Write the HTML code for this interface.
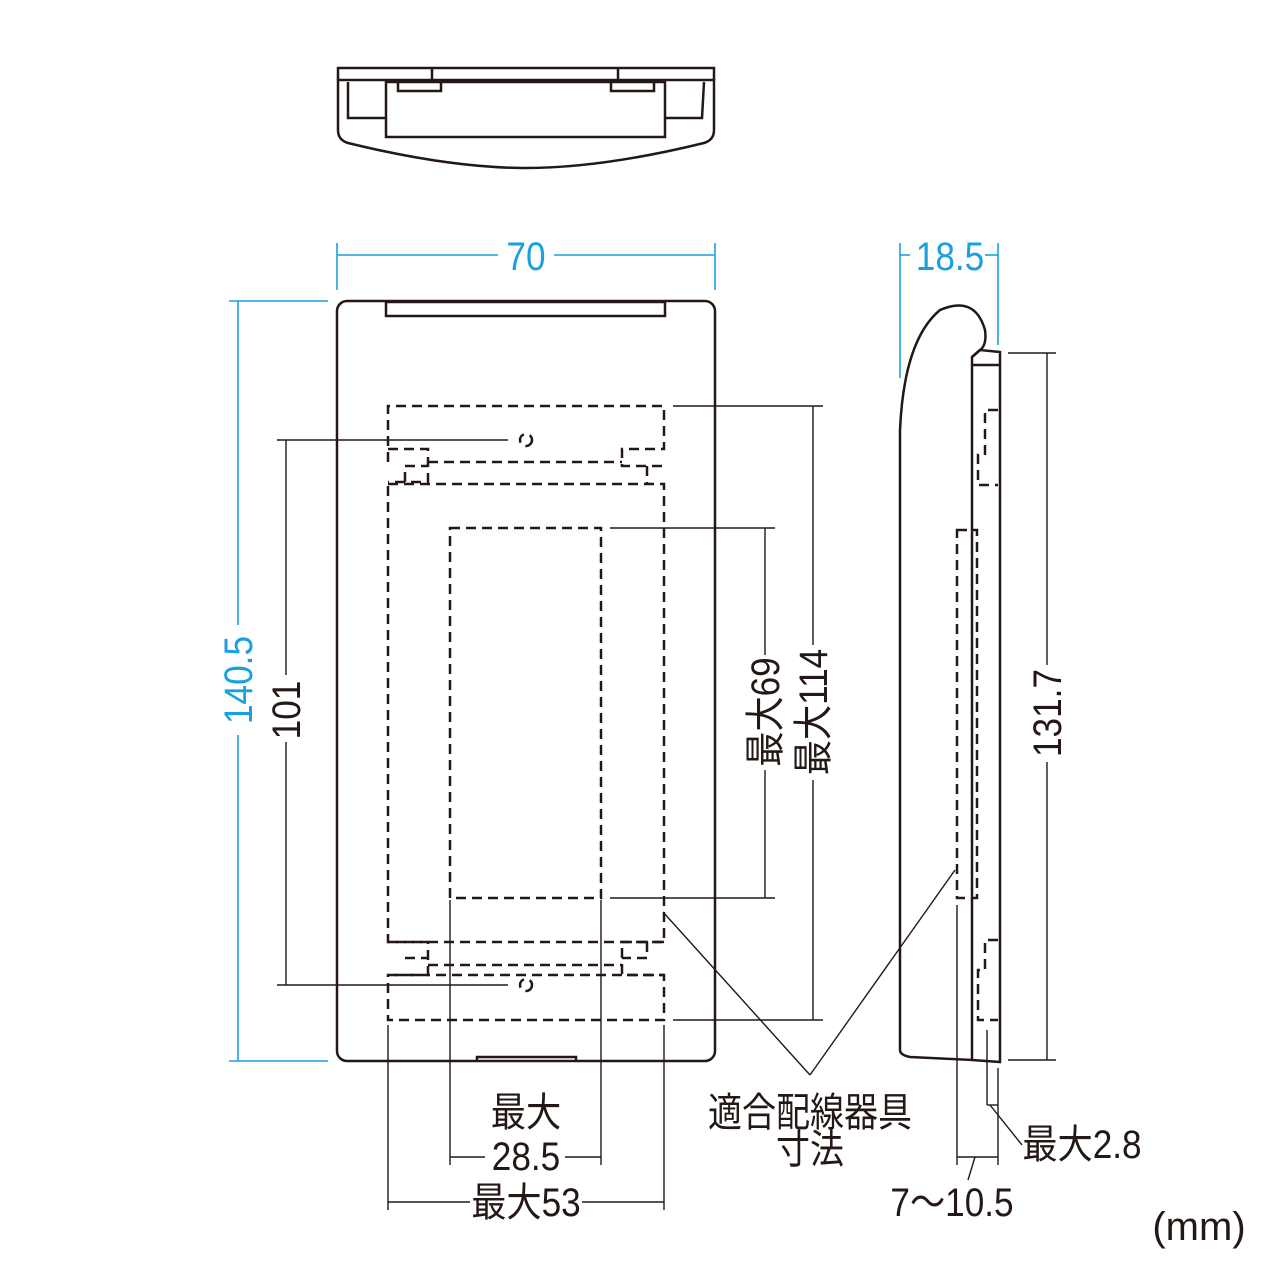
<!DOCTYPE html>
<html><head><meta charset="utf-8"><style>
html,body{margin:0;padding:0;background:#fff;}
svg{display:block}
text{font-family:"Liberation Sans","Noto Sans CJK JP",sans-serif;font-size:40px;fill:#231815}
.b{fill:#1aa0e0}
</style></head><body>
<svg width="1280" height="1280" viewBox="0 0 1280 1280" xmlns="http://www.w3.org/2000/svg">
<g fill="none" stroke="#231815" stroke-width="2.5">
<path d="M338,80 L338,68 L714,68 L714,80"/>
<line x1="432" y1="68" x2="432" y2="80"/><line x1="618" y1="68" x2="618" y2="80"/>
<path d="M338,80 L338,130 Q338,140 348,143 Q450,168 526,168 Q602,168 704,143 Q714,140 714,130 L714,80 Z"/>
<rect x="386" y="82" width="279" height="55"/>
<path d="M441,82 L441,91 L398,91 L398,82"/><path d="M611,82 L611,91 L654,91 L654,82"/>
<path d="M348,82 L348,118 L386,118"/><path d="M704,82 L702,118 L665,118"/>
<rect x="337" y="301" width="378" height="760" rx="10"/>
<rect x="386" y="302" width="279" height="14"/>
<path d="M477,1061 L477,1057 L576,1057 L576,1061"/>
<path d="M900,1050 L900,430 Q904,340 940,310 Q975,295 985,330 Q987,345 980,350 L972,357 L972,1060 L910,1057 Q900,1055 900,1050"/>
<path d="M972,357 L980,350 L1000,352 L1000,1062 L972,1060"/>
<line x1="972" y1="365" x2="1000" y2="365"/>
</g>
<g fill="none" stroke="#231815" stroke-width="2.5" stroke-dasharray="10,6">
<path d="M388,462 L388,406 L664,406 L664,449 L622,449 L622,466 L664,466"/>
<path d="M388,449 L428,449 L428,482 L388,482"/>
<line x1="428" y1="462" x2="622" y2="462"/>
<path d="M405,482 L405,466 L428,466"/><path d="M647,466 L647,484"/>
<rect x="388" y="484" width="276" height="458"/>
<rect x="450" y="528" width="151" height="370"/>
<path d="M388,942 L428,942 L428,975 L388,975"/>
<path d="M405,958 L428,958"/><path d="M664,942 L622,942 L622,975 L664,975"/><path d="M647,942 L647,958 L622,958"/>
<line x1="428" y1="965" x2="622" y2="965"/>
<rect x="388" y="975" width="276" height="45"/>
<circle cx="526" cy="440" r="6"/><circle cx="526" cy="985" r="6"/>
<path d="M998,410 L985,410 L985,455 L978,455 L978,485 L998,485"/>
<path d="M998,940 L985,940 L985,970 L978,970 L978,1020 L998,1020"/>
<rect x="957" y="530" width="20" height="368"/>
</g>
<g fill="none" stroke="#1aa0e0" stroke-width="1.6">
<line x1="337" y1="243" x2="337" y2="290"/><line x1="715" y1="243" x2="715" y2="290"/>
<line x1="337" y1="255" x2="498" y2="255"/><line x1="554" y1="255" x2="715" y2="255"/>
<line x1="229" y1="301" x2="328" y2="301"/><line x1="229" y1="1061" x2="328" y2="1061"/>
<line x1="238" y1="301" x2="238" y2="625"/><line x1="238" y1="735" x2="238" y2="1061"/>
<line x1="900" y1="243" x2="900" y2="378"/><line x1="998" y1="243" x2="998" y2="345"/>
<line x1="900" y1="255" x2="910" y2="255"/><line x1="985" y1="255" x2="998" y2="255"/>
</g>
<g fill="none" stroke="#231815" stroke-width="1.4">
<line x1="277" y1="440" x2="508" y2="440"/><line x1="277" y1="985" x2="508" y2="985"/>
<line x1="286" y1="440" x2="286" y2="675"/><line x1="286" y1="742" x2="286" y2="985"/>
<line x1="610" y1="528" x2="775" y2="528"/><line x1="610" y1="898" x2="775" y2="898"/>
<line x1="765" y1="528" x2="765" y2="655"/><line x1="765" y1="770" x2="765" y2="898"/>
<line x1="673" y1="406" x2="823" y2="406"/><line x1="673" y1="1020" x2="823" y2="1020"/>
<line x1="813" y1="406" x2="813" y2="645"/><line x1="813" y1="780" x2="813" y2="1020"/>
<line x1="450" y1="900" x2="450" y2="1165"/><line x1="601" y1="900" x2="601" y2="1165"/>
<line x1="450" y1="1157" x2="485" y2="1157"/><line x1="565" y1="1157" x2="601" y2="1157"/>
<line x1="388" y1="1025" x2="388" y2="1210"/><line x1="664" y1="1025" x2="664" y2="1210"/>
<line x1="388" y1="1202" x2="470" y2="1202"/><line x1="582" y1="1202" x2="664" y2="1202"/>
<line x1="663" y1="912" x2="810" y2="1075"/><line x1="955" y1="870" x2="810" y2="1075"/>
<line x1="1008" y1="353" x2="1056" y2="353"/><line x1="1008" y1="1060" x2="1056" y2="1060"/>
<line x1="1047" y1="353" x2="1047" y2="665"/><line x1="1047" y1="762" x2="1047" y2="1060"/>
<line x1="957" y1="905" x2="957" y2="1165"/><line x1="998" y1="1068" x2="998" y2="1165"/>
<line x1="987" y1="1030" x2="987" y2="1105"/><line x1="987" y1="1105" x2="998" y2="1105"/>
<line x1="957" y1="1157" x2="998" y2="1157"/>
<line x1="975" y1="1157" x2="968" y2="1180"/>
<line x1="990" y1="1105" x2="1022" y2="1145"/>
</g>
<g>
<text class="b" x="526" y="270" text-anchor="middle" transform="translate(526,0) scale(0.88,1) translate(-526,0)">70</text>
<text class="b" x="950" y="270" text-anchor="middle" transform="translate(950,0) scale(0.88,1) translate(-950,0)">18.5</text>
<text class="b" transform="translate(252,680) rotate(-90) scale(0.88,1)" text-anchor="middle">140.5</text>
<text transform="translate(300,710) rotate(-90) scale(0.88,1)" text-anchor="middle">101</text>
<text transform="translate(779,712) rotate(-90) scale(0.88,1)" text-anchor="middle">最大69</text>
<text transform="translate(827,712) rotate(-90) scale(0.88,1)" text-anchor="middle">最大114</text>
<text transform="translate(1061,713) rotate(-90) scale(0.88,1)" text-anchor="middle">131.7</text>
<text x="526" y="1126" text-anchor="middle" transform="translate(526,0) scale(0.88,1) translate(-526,0)">最大</text>
<text x="526" y="1170" text-anchor="middle" transform="translate(526,0) scale(0.88,1) translate(-526,0)">28.5</text>
<text x="526" y="1216" text-anchor="middle" transform="translate(526,0) scale(0.88,1) translate(-526,0)">最大53</text>
<text x="810" y="1126" text-anchor="middle" transform="translate(810,0) scale(0.85,1) translate(-810,0)">適合配線器具</text>
<text x="810" y="1163" text-anchor="middle" transform="translate(810,0) scale(0.85,1) translate(-810,0)">寸法</text>
<text x="1082" y="1158" text-anchor="middle" transform="translate(1082,0) scale(0.88,1) translate(-1082,0)">最大2.8</text>
<text x="952" y="1216" text-anchor="middle" transform="translate(952,0) scale(0.88,1) translate(-952,0)">7～10.5</text>
<text x="1199" y="1240" text-anchor="middle">(mm)</text>
</g>
</svg>
</body></html>
